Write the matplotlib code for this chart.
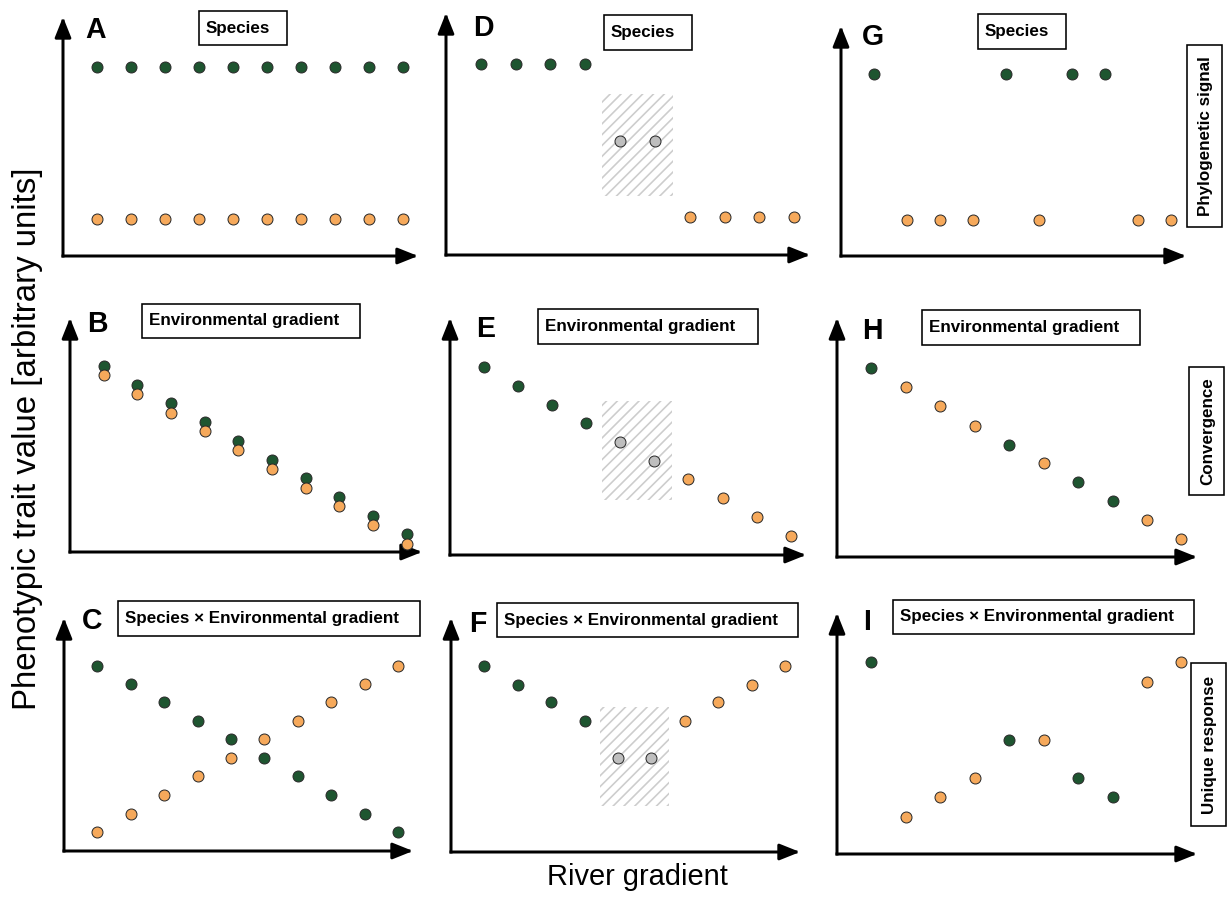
import numpy as np
import matplotlib.pyplot as plt
from matplotlib.patches import Rectangle

W, H, DPI = 1227, 901, 130

plt.rcParams['font.family'] = ['Liberation Sans', 'DejaVu Sans']
plt.rcParams['hatch.linewidth'] = 0.9


def pt(px):
    # pixels -> points at this dpi
    return px * 72.0 / DPI


#######
# data (trait value, arbitrary units 0-10)
#######
sites = [1, 2, 3, 4, 5, 6, 7, 8, 9, 10]

# A: species effect only
a_green = [7.9, 7.9, 7.9, 7.9, 7.9, 7.9, 7.9, 7.9, 7.9, 7.9]
a_orange = [1.55, 1.55, 1.55, 1.55, 1.55, 1.55, 1.55, 1.55, 1.55, 1.55]
# B: environmental gradient only
b_green = [7.95, 7.15, 6.35, 5.55, 4.75, 3.95, 3.15, 2.35, 1.55, 0.75]
b_orange = [7.55, 6.75, 5.95, 5.15, 4.35, 3.55, 2.75, 1.95, 1.15, 0.35]
# C: species x gradient
c_green = [7.95, 7.15, 6.4, 5.6, 4.8, 4.0, 3.2, 2.4, 1.6, 0.8]
c_orange = [0.8, 1.6, 2.4, 3.2, 4.0, 4.8, 5.6, 6.4, 7.15, 7.95]

# D-F: green upstream, orange downstream, two sites without species (grey)
def_green_x = [1, 2, 3, 4]
def_gray_x = [5, 6]
def_orange_x = [7, 8, 9, 10]
d_green = [7.9, 7.9, 7.9, 7.9]
d_gray = [4.7, 4.7]
d_orange = [1.55, 1.55, 1.55, 1.55]
e_green = [7.95, 7.15, 6.35, 5.55]
e_gray = [4.75, 3.95]
e_orange = [3.2, 2.4, 1.6, 0.8]
f_green = [7.95, 7.15, 6.4, 5.6]
f_gray = [4.0, 4.0]
f_orange = [5.6, 6.4, 7.15, 7.95]
# trait range of the hatched (unsampled) zone
d_band = [2.45, 6.65]
e_band = [2.3, 6.5]
f_band = [1.95, 6.2]

# G-I: species interleaved along the river
ghi_green_x = [1, 5, 7, 8]
ghi_orange_x = [2, 3, 4, 6, 9, 10]
g_green = [7.9, 7.9, 7.9, 7.9]
g_orange = [1.55, 1.55, 1.55, 1.55, 1.55, 1.55]
h_green = [7.9, 4.7, 3.15, 2.35]
h_orange = [7.1, 6.3, 5.5, 3.95, 1.55, 0.75]
i_green = [7.95, 4.75, 3.15, 2.35]
i_orange = [1.55, 2.35, 3.15, 4.75, 7.15, 7.95]

title_sp = 'Species'
title_env = 'Environmental gradient'
title_int = 'Species \u00d7 Environmental gradient'

GREEN = '#1e5530'
ORANGE = '#f6a95b'
GRAY = '#bebebe'
EDGE = '#2a2a2a'

fig = plt.figure(figsize=(W / DPI, H / DPI), dpi=DPI)


def fig_xy(x, y):
    return x / W, 1 - y / H


def panel(rect, letter, letter_xy, title, title_box):
    l, b, r, t = rect
    ax = fig.add_axes([l / W, 1 - b / H, (r - l) / W, (b - t) / H])
    ax.set_xlim(0, 10.45)
    ax.set_ylim(0, 10)
    ax.axis('off')
    arrow = dict(arrowstyle='-|>,head_length=0.95,head_width=0.38',
                 mutation_scale=10, lw=pt(3), color='black',
                 shrinkA=0, shrinkB=0, capstyle='projecting')
    ax.annotate('', xy=(1, 0), xytext=(0, 0), xycoords='axes fraction',
                arrowprops=arrow)
    ax.annotate('', xy=(0, 1), xytext=(0, 0), xycoords='axes fraction',
                arrowprops=arrow)
    # panel letter
    fig.text(*fig_xy(*letter_xy), letter, fontsize=pt(28.5),
             fontweight='bold', ha='center', va='baseline')
    # boxed title
    x0, y0, x1, y1 = title_box
    fig.add_artist(Rectangle(fig_xy(x0, y1), (x1 - x0) / W, (y1 - y0) / H,
                             transform=fig.transFigure, facecolor='white',
                             edgecolor='black', lw=pt(1.6)))
    fig.text(*fig_xy(x0 + 7, (y0 + y1) / 2), title, fontsize=pt(17),
             fontweight='bold', ha='left', va='center')
    return ax


def dots(ax, x, y, color):
    ax.scatter(x, y, s=37, c=color, edgecolors=EDGE, linewidths=pt(1),
               zorder=3, clip_on=False)


def band(ax, yr):
    x0 = min(def_gray_x) - 0.53
    x1 = max(def_gray_x) + 0.53
    ax.add_patch(Rectangle((x0, yr[0]), x1 - x0, yr[1] - yr[0],
                           facecolor='none', edgecolor='#cdcdcd',
                           hatch='////', lw=0, zorder=1))


def side_box(box, text):
    x0, y0, x1, y1 = box
    fig.add_artist(Rectangle(fig_xy(x0, y1), (x1 - x0) / W, (y1 - y0) / H,
                             transform=fig.transFigure, facecolor='white',
                             edgecolor='black', lw=pt(1.6)))
    fig.text(*fig_xy((x0 + x1) / 2 + 1, (y0 + y1) / 2), text,
             fontsize=pt(17), fontweight='bold', rotation=90,
             ha='center', va='center')


#######
# left column
#######
ax = panel((63, 256, 418, 17), 'A', (95.5, 38), title_sp, (199, 11, 287, 45))
dots(ax, sites, a_green, GREEN)
dots(ax, sites, a_orange, ORANGE)

ax = panel((70, 552, 422, 318), 'B', (97.5, 332), title_env, (142, 304, 360, 338))
dots(ax, sites, b_green, GREEN)
dots(ax, sites, b_orange, ORANGE)

ax = panel((64, 851, 413, 618), 'C', (92.5, 629), title_int, (118, 601, 420, 636))
dots(ax, sites, c_green, GREEN)
dots(ax, sites, c_orange, ORANGE)

#######
# middle column
#######
ax = panel((446, 255, 810, 13), 'D', (483.5, 36), title_sp, (604, 15, 692, 50))
band(ax, d_band)
dots(ax, def_green_x, d_green, GREEN)
dots(ax, def_gray_x, d_gray, GRAY)
dots(ax, def_orange_x, d_orange, ORANGE)

ax = panel((450, 555, 806, 318), 'E', (486, 337), title_env, (538, 309, 758, 344))
band(ax, e_band)
dots(ax, def_green_x, e_green, GREEN)
dots(ax, def_gray_x, e_gray, GRAY)
dots(ax, def_orange_x, e_orange, ORANGE)

ax = panel((451, 852, 800, 618), 'F', (477.5, 632), title_int, (497, 603, 798, 637))
band(ax, f_band)
dots(ax, def_green_x, f_green, GREEN)
dots(ax, def_gray_x, f_gray, GRAY)
dots(ax, def_orange_x, f_orange, ORANGE)

#######
# right column
#######
ax = panel((841, 256, 1186, 26), 'G', (873, 45), title_sp, (978, 14, 1066, 49))
dots(ax, ghi_green_x, g_green, GREEN)
dots(ax, ghi_orange_x, g_orange, ORANGE)
side_box((1187, 45, 1222, 227), 'Phylogenetic signal')

ax = panel((837, 557, 1197, 318), 'H', (872, 339), title_env, (922, 310, 1140, 345))
dots(ax, ghi_green_x, h_green, GREEN)
dots(ax, ghi_orange_x, h_orange, ORANGE)
side_box((1189, 367, 1224, 495), 'Convergence')

ax = panel((837, 854, 1197, 613), 'I', (867, 630), title_int, (893, 600, 1194, 634))
dots(ax, ghi_green_x, i_green, GREEN)
dots(ax, ghi_orange_x, i_orange, ORANGE)
side_box((1191, 663, 1226, 826), 'Unique response')

# shared axis labels
fig.text(*fig_xy(28, 168), 'Phenotypic trait value [arbitrary units]',
         fontsize=pt(33), rotation=90, ha='center', va='top')
fig.text(*fig_xy(637, 885), 'River gradient', fontsize=pt(29),
         ha='center', va='baseline')

fig.savefig('out.png', dpi=DPI)
